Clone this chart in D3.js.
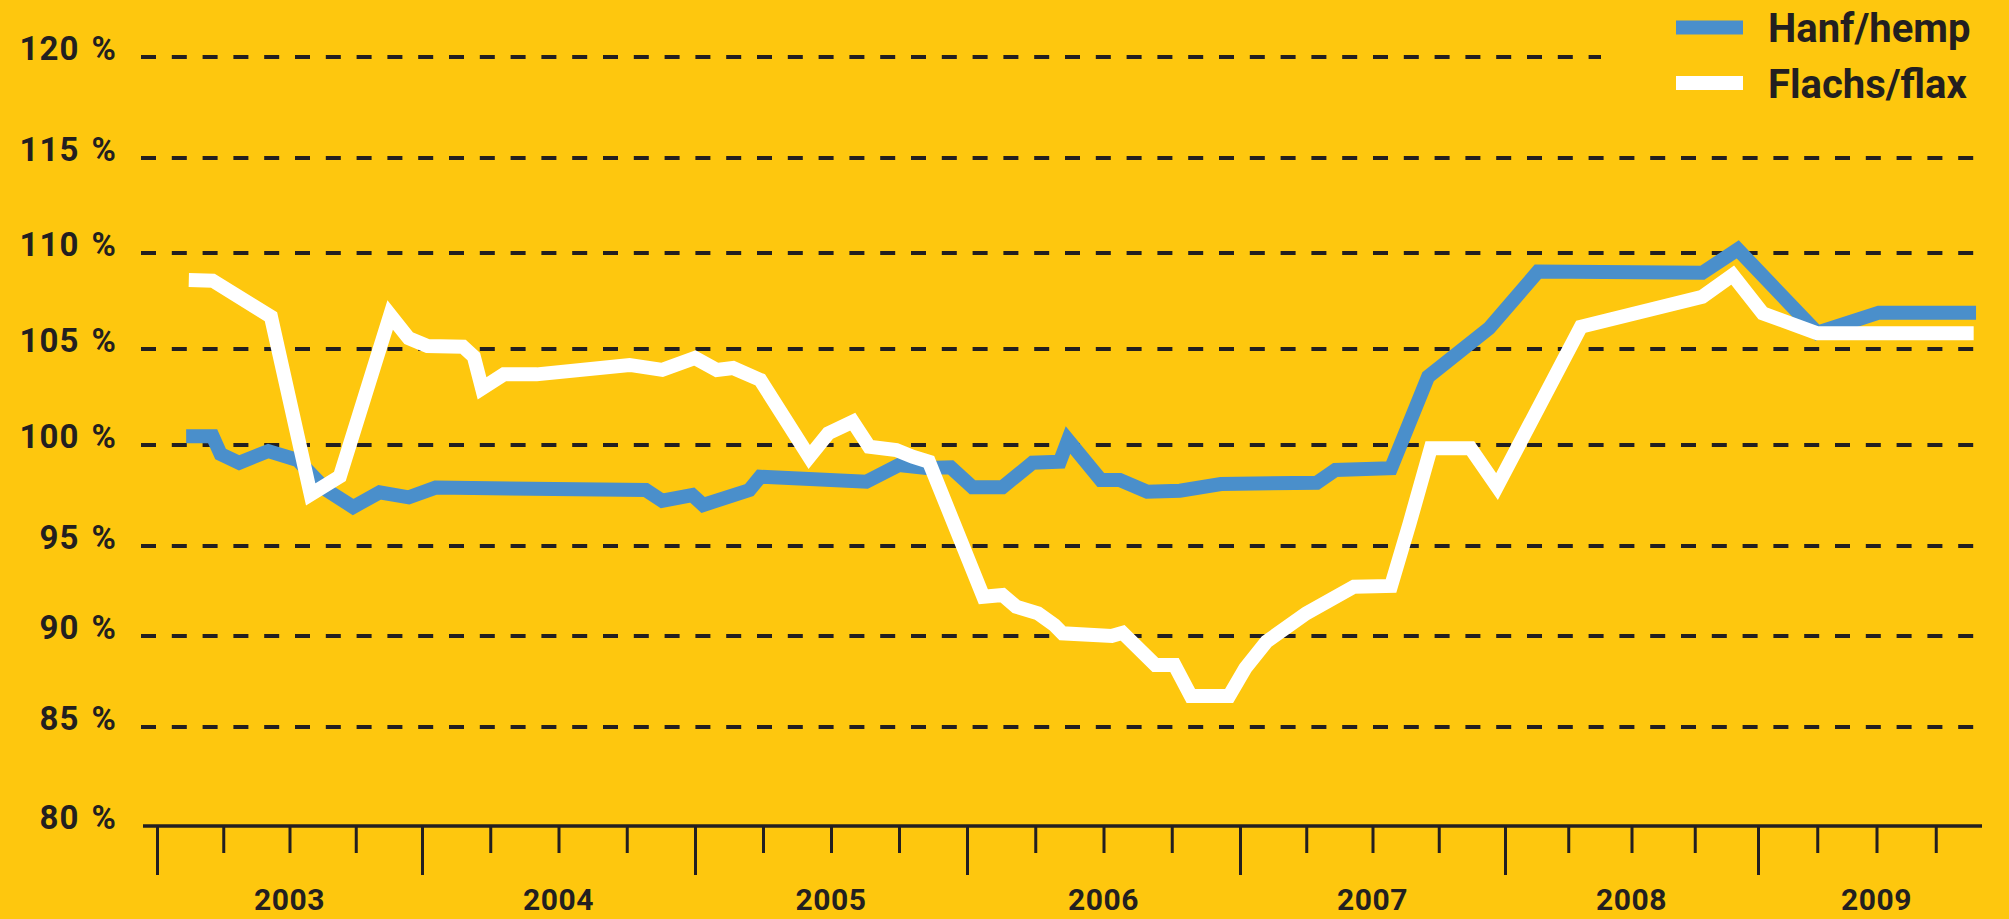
<!DOCTYPE html>
<html>
<head>
<meta charset="utf-8">
<script src="https://cdn.jsdelivr.net/npm/d3@7"></script>
<style>
    body { margin: 0; background: #fec70e; }
    svg { display: block; }
    text { font-family: Roboto, "Open Sans", sans-serif; font-weight: 700; fill: #231f20; }
</style>
</head>
<body>
<svg id="chart" width="2009" height="919"></svg>
<script>
// price index, decimal year / percent
const hempYears = [2003.11, 2003.21, 2003.24, 2003.31, 2003.42, 2003.53, 2003.64, 2003.74, 2003.84, 2003.95,
    2004.05, 2004.82, 2004.88, 2004.99, 2005.03, 2005.20, 2005.24, 2005.63, 2005.75, 2005.85,
    2005.94, 2006.02, 2006.13, 2006.24, 2006.34, 2006.37, 2006.49, 2006.56, 2006.66, 2006.78,
    2006.93, 2007.29, 2007.36, 2007.57, 2007.71, 2007.94, 2008.13, 2008.78, 2008.92, 2009.25,
    2009.51, 2009.92];
const hempValues = [100.45, 100.45, 99.55, 99.12, 99.70, 99.26, 97.77, 96.93, 97.66, 97.41,
    97.89, 97.77, 97.24, 97.52, 97.03, 97.77, 98.43, 98.18, 99.01, 98.86,
    98.90, 97.91, 97.91, 99.12, 99.17, 100.26, 98.27, 98.27, 97.69, 97.74,
    98.07, 98.13, 98.76, 98.85, 103.56, 106.08, 109.03, 108.97, 110.19, 105.85,
    106.89, 106.89];

const flaxYears = [2003.12, 2003.21, 2003.43, 2003.58, 2003.69, 2003.88, 2003.95, 2004.02, 2004.15, 2004.19,
    2004.22, 2004.30, 2004.42, 2004.76, 2004.88, 2005.00, 2005.08, 2005.14, 2005.24, 2005.42,
    2005.49, 2005.58, 2005.64, 2005.74, 2005.80, 2005.86, 2006.06, 2006.13, 2006.18, 2006.26,
    2006.32, 2006.35, 2006.53, 2006.57, 2006.69, 2006.76, 2006.82, 2006.96, 2007.02, 2007.10,
    2007.25, 2007.43, 2007.57, 2007.64, 2007.72, 2007.87, 2007.97, 2008.30, 2008.78, 2008.90,
    2009.02, 2009.25, 2009.91];
const flaxValues = [108.59, 108.56, 106.68, 97.55, 98.44, 106.77, 105.56, 105.16, 105.12, 104.60,
    102.95, 103.68, 103.68, 104.17, 103.91, 104.53, 103.91, 104.01, 103.39, 99.41,
    100.61, 101.21, 99.92, 99.75, 99.42, 99.17, 92.18, 92.28, 91.63, 91.26,
    90.61, 90.15, 90.00, 90.18, 88.41, 88.41, 86.70, 86.70, 88.23, 89.69,
    91.26, 92.74, 92.78, 96.12, 99.84, 99.84, 97.94, 106.16, 107.72, 108.85,
    106.86, 105.82, 105.82];

const seriesNames = ["Hanf/hemp", "Flachs/flax"];
const seriesColors = ["#4a8fcb", "#ffffff"];
const yTicks = [80, 85, 90, 95, 100, 105, 110, 115, 120];
const yearLabels = [2003, 2004, 2005, 2006, 2007, 2008, 2009];

class PriceChart {
    constructor(svg_id) {
        this.svg_id = svg_id;
        this.width = 2009;
        this.height = 919;
        this.render();
    }

    render() {
        let svg = d3.select("#" + this.svg_id);

        svg.append("rect")
            .attr("width", this.width)
            .attr("height", this.height)
            .style("fill", "#fec70e");

        // year ticks in the original are not evenly spaced, so one stop per year
        let x = d3.scaleLinear()
            .domain([2003, 2004, 2005, 2006, 2007, 2008, 2009, 2010])
            .range([157, 422, 695, 967, 1240, 1505, 1758, 1995]);

        let y = d3.scaleLinear()
            .domain(yTicks)
            .range([826, 727, 636, 546, 445, 349, 253, 158, 57]);

        // dashed grid
        svg.append("g").selectAll("line.grid")
            .data(yTicks.filter(d => d > 80))
            .enter()
            .append("line")
            .attr("class", "grid")
            .attr("x1", 141)
            .attr("x2", d => d == 120 ? 1601 : 1982)
            .attr("y1", d => y(d))
            .attr("y2", d => y(d))
            .style("stroke", "#231f20")
            .style("stroke-width", 4)
            .style("stroke-dasharray", "15 15.8");

        // y labels
        let yAxis = d3.axisLeft(y)
            .tickValues(yTicks)
            .tickSize(0)
            .tickPadding(0)
            .tickFormat(d => d + " %");

        let gY = svg.append("g")
            .attr("transform", "translate(117,0)")
            .call(yAxis);
        gY.select(".domain").remove();
        gY.selectAll("text")
            .attr("dy", 2)
            .style("font-size", "33px")
            .style("letter-spacing", "1px")
            .style("word-spacing", "3px")
            .style("fill", "#231f20")
            .style("font-family", "Roboto, sans-serif");

        // x axis: quarters, long ticks at year starts
        let quarters = d3.range(2003, 2010, 0.25);
        let xAxis = d3.axisBottom(x)
            .tickValues(quarters)
            .tickSize(27)
            .tickSizeOuter(0)
            .tickFormat("");

        let gX = svg.append("g")
            .attr("transform", "translate(0,826)")
            .call(xAxis);
        gX.select(".domain").remove();
        gX.selectAll(".tick line")
            .attr("y2", d => Number.isInteger(d) ? 49 : 27)
            .style("stroke", "#231f20")
            .style("stroke-width", 3);

        svg.append("line")
            .attr("x1", 143)
            .attr("x2", 1982)
            .attr("y1", y(80))
            .attr("y2", y(80))
            .style("stroke", "#231f20")
            .style("stroke-width", 3.5);

        svg.append("g").selectAll("text.year")
            .data(yearLabels)
            .enter()
            .append("text")
            .attr("class", "year")
            .attr("x", d => x(d + 0.5))
            .attr("y", 910)
            .attr("text-anchor", "middle")
            .style("font-size", "30px")
            .style("letter-spacing", "0.5px")
            .text(d => d);

        // lines
        let line = d3.line()
            .x(d => x(d[0]))
            .y(d => y(d[1]));

        let hemp = d3.zip(hempYears, hempValues);
        let flax = d3.zip(flaxYears, flaxValues);

        [hemp, flax].forEach(function(series, i) {
            svg.append("path")
                .datum(series)
                .attr("d", line)
                .style("fill", "none")
                .style("stroke", seriesColors[i])
                .style("stroke-width", 14)
                .style("stroke-linejoin", "miter")
                .style("stroke-miterlimit", 10)
                .style("stroke-linecap", "butt");
        });

        // legend
        let legend = svg.append("g").selectAll("g.legend")
            .data(seriesNames)
            .enter()
            .append("g")
            .attr("class", "legend")
            .attr("transform", (d, i) => "translate(0," + (i * 55.5) + ")");

        legend.append("line")
            .attr("x1", 1676)
            .attr("x2", 1743)
            .attr("y1", 27.5)
            .attr("y2", 27.5)
            .style("stroke", (d, i) => seriesColors[i])
            .style("stroke-width", 14);

        legend.append("text")
            .attr("x", 1768)
            .attr("y", 42)
            .style("font-size", "40px")
            .text(d => d);
    }
}

new PriceChart("chart");
</script>
</body>
</html>
